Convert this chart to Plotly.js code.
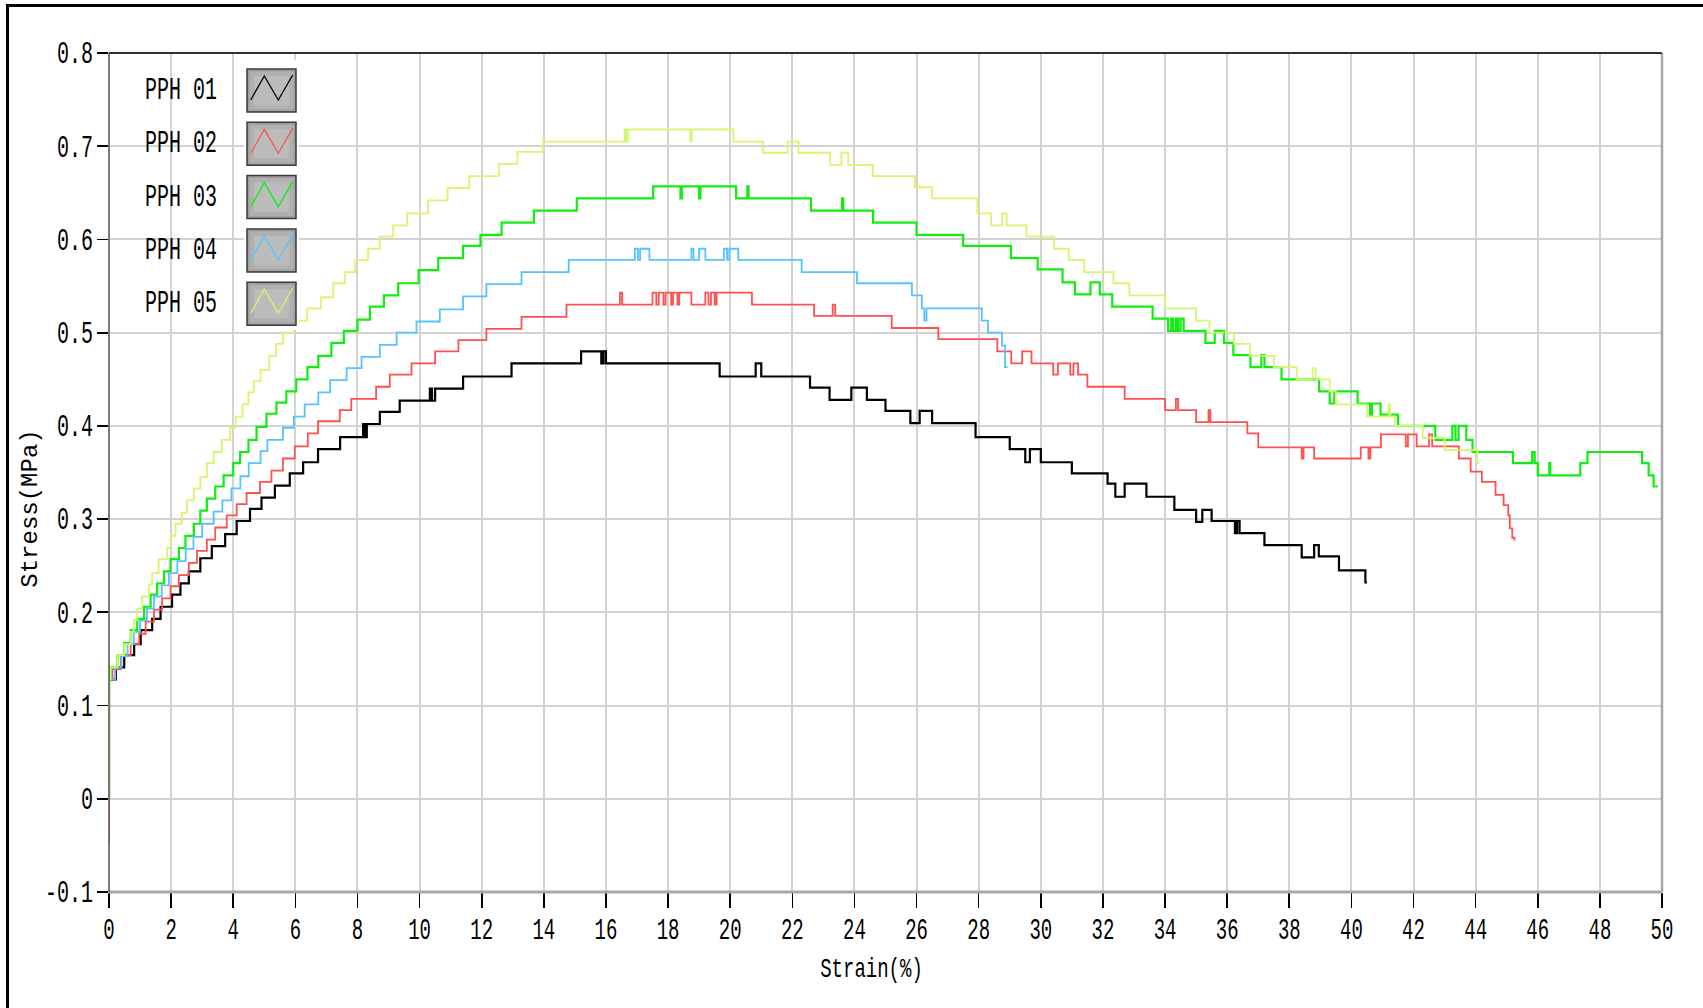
<!DOCTYPE html>
<html>
<head>
<meta charset="utf-8">
<script src="https://cdn.plot.ly/plotly-3.0.1.min.js"></script>
<style>
html,body{margin:0;padding:0;background:#fff;overflow:hidden}
#chart{width:1703px;height:1008px}
#frame{position:absolute;left:6px;top:4px;width:1720px;height:1030px;border-left:3px solid #000;border-top:3px solid #000;pointer-events:none}
</style>
</head>
<body>
<div id="chart"></div>
<div id="frame"></div>
<script>
// ---- data (strain %, stress MPa), step-wise ----
const seriesNames = ['PPH 01','PPH 02','PPH 03','PPH 04','PPH 05'];

const pph01 = [[0,0],[0,0.128],[0.22,0.141],[0.49,0.154],[0.81,0.166],[1.02,0.181],[1.39,0.193],[1.66,0.206],[2.03,0.219],[2.30,0.231],[2.57,0.244],[2.94,0.258],[3.31,0.271],[3.74,0.284],[4.11,0.298],[4.54,0.311],[4.91,0.323],[5.34,0.336],[5.82,0.349],[6.25,0.361],[6.73,0.375],[7.44,0.388],[8.18,0.402],[8.24,0.388],[8.30,0.402],[8.72,0.415],[9.36,0.427],[10.33,0.440],[10.40,0.427],[10.50,0.440],[11.40,0.453],[12.96,0.467],[15.20,0.480],[15.85,0.467],[15.92,0.480],[16.00,0.467],[19.66,0.453],[20.82,0.467],[21.00,0.453],[22.57,0.441],[23.20,0.428],[23.90,0.441],[24.40,0.428],[25.00,0.416],[25.80,0.403],[26.10,0.416],[26.50,0.403],[27.90,0.388],[29.00,0.375],[29.50,0.361],[29.65,0.375],[30.00,0.361],[31.00,0.349],[32.15,0.338],[32.40,0.324],[32.70,0.338],[33.40,0.324],[34.30,0.310],[35.00,0.297],[35.20,0.310],[35.50,0.298],[36.25,0.285],[36.32,0.298],[36.40,0.285],[37.20,0.272],[38.40,0.259],[38.80,0.272],[38.95,0.260],[39.60,0.245],[40.45,0.232],[40.50,0.232]];

const pph02 = [[0,-0.047],[0,0.127],[0.11,0.139],[0.38,0.154],[0.70,0.166],[0.97,0.177],[1.18,0.190],[1.45,0.203],[1.71,0.215],[1.98,0.228],[2.25,0.240],[2.57,0.253],[2.83,0.266],[3.15,0.278],[3.42,0.291],[3.79,0.304],[4.11,0.316],[4.43,0.328],[4.86,0.340],[5.23,0.352],[5.60,0.365],[5.98,0.378],[6.40,0.392],[6.73,0.405],[7.43,0.417],[7.80,0.429],[8.60,0.442],[9.04,0.455],[9.74,0.467],[10.50,0.480],[11.25,0.492],[12.15,0.504],[13.28,0.517],[14.73,0.530],[16.45,0.543],[16.52,0.530],[17.50,0.543],[17.62,0.530],[17.70,0.543],[17.85,0.530],[17.92,0.543],[18.10,0.530],[18.16,0.543],[18.30,0.530],[18.36,0.543],[18.75,0.530],[19.20,0.543],[19.30,0.530],[19.38,0.543],[19.50,0.530],[19.56,0.543],[20.70,0.530],[22.70,0.518],[23.30,0.530],[23.38,0.518],[25.20,0.505],[26.70,0.493],[28.60,0.480],[29.05,0.467],[29.40,0.480],[29.70,0.467],[30.40,0.455],[30.55,0.467],[30.95,0.455],[31.05,0.467],[31.20,0.455],[31.50,0.442],[32.70,0.429],[34.00,0.417],[34.35,0.429],[34.42,0.417],[35.00,0.404],[35.40,0.417],[35.46,0.404],[36.65,0.392],[37.00,0.377],[38.40,0.365],[38.46,0.377],[38.80,0.365],[40.30,0.377],[40.55,0.365],[40.61,0.377],[40.95,0.391],[41.75,0.378],[41.82,0.391],[42.10,0.378],[42.50,0.391],[42.60,0.378],[43.46,0.365],[43.84,0.351],[44.20,0.340],[44.64,0.326],[44.90,0.315],[45.05,0.304],[45.10,0.290],[45.18,0.280],[45.25,0.277]];

const pph03 = [[0,0],[0,0.128],[0.05,0.141],[0.27,0.154],[0.49,0.167],[0.70,0.181],[0.91,0.193],[1.13,0.206],[1.34,0.219],[1.55,0.231],[1.77,0.244],[1.98,0.257],[2.25,0.269],[2.46,0.282],[2.73,0.295],[2.94,0.309],[3.15,0.322],[3.42,0.335],[3.69,0.347],[4.00,0.360],[4.22,0.372],[4.49,0.385],[4.75,0.399],[5.07,0.413],[5.39,0.425],[5.71,0.437],[6.03,0.450],[6.39,0.463],[6.74,0.475],[7.16,0.489],[7.56,0.502],[8.00,0.514],[8.40,0.528],[8.85,0.540],[9.31,0.553],[9.97,0.567],[10.60,0.580],[11.40,0.593],[11.96,0.605],[12.64,0.618],[13.68,0.631],[15.06,0.644],[17.52,0.657],[18.40,0.644],[18.44,0.657],[19.00,0.644],[19.04,0.657],[20.19,0.644],[20.55,0.657],[20.59,0.644],[22.60,0.631],[23.60,0.644],[23.64,0.631],[24.60,0.618],[26.00,0.605],[27.50,0.593],[29.04,0.580],[29.90,0.568],[30.70,0.554],[31.10,0.541],[31.60,0.554],[31.90,0.541],[32.30,0.528],[33.60,0.515],[34.10,0.502],[34.20,0.515],[34.26,0.502],[34.35,0.515],[34.42,0.502],[34.50,0.515],[34.60,0.502],[35.30,0.489],[35.60,0.502],[35.90,0.489],[36.20,0.476],[36.75,0.463],[37.10,0.476],[37.20,0.463],[37.75,0.450],[38.96,0.437],[39.30,0.424],[39.45,0.437],[40.20,0.424],[40.60,0.412],[40.66,0.424],[40.94,0.412],[41.50,0.400],[42.70,0.385],[43.25,0.400],[43.35,0.385],[43.45,0.400],[43.70,0.385],[43.90,0.372],[45.20,0.360],[45.82,0.372],[45.90,0.360],[46.00,0.347],[46.37,0.360],[46.40,0.347],[47.37,0.360],[47.60,0.372],[49.36,0.360],[49.57,0.347],[49.73,0.335],[49.87,0.335]];

const pph04 = [[0,0],[0,0.128],[0.20,0.141],[0.40,0.153],[0.60,0.166],[0.80,0.179],[1.00,0.191],[1.22,0.204],[1.45,0.217],[1.70,0.229],[1.93,0.242],[2.20,0.255],[2.47,0.268],[2.72,0.281],[3.00,0.295],[3.37,0.308],[3.65,0.320],[3.94,0.333],[4.23,0.346],[4.50,0.360],[4.88,0.373],[5.10,0.385],[5.60,0.398],[5.95,0.410],[6.30,0.423],[6.74,0.436],[7.12,0.449],[7.65,0.462],[8.13,0.474],[8.72,0.487],[9.26,0.500],[9.90,0.512],[10.65,0.525],[11.40,0.539],[12.15,0.552],[13.28,0.565],[14.80,0.578],[16.93,0.590],[17.03,0.578],[17.10,0.590],[17.40,0.578],[18.75,0.590],[18.82,0.578],[19.00,0.590],[19.20,0.578],[19.80,0.590],[19.90,0.578],[19.97,0.590],[20.26,0.578],[22.30,0.565],[24.08,0.553],[25.85,0.540],[26.17,0.526],[26.25,0.513],[26.32,0.526],[28.10,0.513],[28.30,0.500],[28.75,0.486],[28.85,0.463],[28.93,0.463]];

const pph05 = [[0,0],[0,0.128],[0.05,0.141],[0.27,0.154],[0.49,0.166],[0.70,0.179],[0.80,0.192],[0.91,0.204],[1.07,0.217],[1.29,0.230],[1.39,0.242],[1.60,0.257],[1.87,0.269],[1.98,0.282],[2.14,0.295],[2.35,0.307],[2.51,0.320],[2.73,0.333],[2.94,0.345],[3.15,0.360],[3.37,0.372],[3.63,0.385],[3.90,0.398],[4.08,0.410],[4.30,0.423],[4.49,0.436],[4.66,0.448],[4.88,0.460],[5.16,0.475],[5.38,0.488],[5.60,0.500],[5.95,0.513],[6.38,0.526],[6.82,0.538],[7.22,0.553],[7.60,0.565],[7.93,0.578],[8.34,0.590],[8.72,0.603],[9.15,0.615],[9.60,0.628],[10.27,0.642],[10.90,0.655],[11.60,0.668],[12.55,0.681],[13.15,0.694],[13.98,0.705],[16.60,0.718],[16.65,0.705],[16.72,0.718],[18.72,0.705],[18.76,0.718],[20.10,0.705],[21.05,0.693],[21.85,0.705],[22.20,0.693],[23.22,0.680],[23.58,0.693],[23.80,0.680],[24.59,0.668],[25.95,0.656],[26.50,0.644],[27.96,0.628],[28.40,0.615],[28.75,0.628],[28.90,0.615],[29.54,0.603],[30.43,0.590],[30.90,0.578],[31.40,0.565],[32.34,0.553],[32.85,0.540],[34.00,0.526],[35.00,0.513],[35.43,0.500],[36.22,0.488],[36.73,0.475],[37.50,0.463],[38.24,0.450],[38.75,0.462],[38.85,0.450],[39.30,0.437],[39.50,0.423],[40.50,0.410],[41.20,0.423],[41.25,0.410],[41.40,0.400],[42.30,0.387],[43.00,0.374],[44.05,0.360],[44.12,0.360]];

const xTickVals = [0,2,4,6,8,10,12,14,16,18,20,22,24,26,28,30,32,34,36,38,40,42,44,46,48,50];
const xTickText = ['0','2','4','6','8','10','12','14','16','18','20','22','24','26','28','30','32','34','36','38','40','42','44','46','48','50'];
const yTickVals = [-0.1,0,0.1,0.2,0.3,0.4,0.5,0.6,0.7,0.8];
const yTickText = ['-0.1','0','0.1','0.2','0.3','0.4','0.5','0.6','0.7','0.8'];

// ---- styling ----
const seriesData = [pph01, pph02, pph03, pph04, pph05];
const colors = ['#000000','#ff5050','#10ee10','#55c3ff','#d4f76e'];
const widths = [2.2, 1.8, 2.2, 1.8, 1.8];
const MONO = 'Liberation Mono, DejaVu Sans Mono, monospace';

const traces = seriesData.map((d, i) => ({
  type: 'scatter', mode: 'lines', name: seriesNames[i],
  x: d.map(p => p[0]), y: d.map(p => p[1]),
  line: {color: colors[i], width: widths[i], shape: 'hv', simplify: false},
  hoverinfo: 'skip'
}));

// pixel -> paper helpers for the plot box (left 109, top 53, w 1553, h 839)
const PL = 109, PT = 53, PW = 1553, PH = 839;
const px = X => (X - PL) / PW;
const py = Y => (PT + PH - Y) / PH;

const shapes = [];
const annotations = [];

// legend column background
shapes.push({type:'rect', xref:'paper', yref:'paper', x0:px(244), x1:px(299), y0:py(330), y1:py(60),
  fillcolor:'#ffffff', line:{width:0}, layer:'above'});

seriesNames.forEach((nm, i) => {
  const top = 69 + i * 53.3, bot = top + 43, L = 247, R = 296;
  shapes.push({type:'rect', xref:'paper', yref:'paper', x0:px(L), x1:px(R), y0:py(bot), y1:py(top),
    fillcolor:'#9e9e9e', line:{color:'#3a3a3a', width:1.5}, layer:'above'});
  shapes.push({type:'rect', xref:'paper', yref:'paper', x0:px(L+2.5), x1:px(R-2.5), y0:py(bot-2.5), y1:py(top+2.5),
    fillcolor:'#b0b0b0', line:{width:0}, layer:'above'});
  shapes.push({type:'rect', xref:'paper', yref:'paper', x0:px(L+7), x1:px(R-7), y0:py(bot-7), y1:py(top+7),
    fillcolor:'#bcbcbc', line:{width:0}, layer:'above'});
  const pts = [[L+3.7, top+31],[L+17.3, top+7],[L+31.3, top+31],[L+45.7, top+6]];
  const path = 'M ' + pts.map(p => px(p[0]) + ',' + py(p[1])).join(' L ');
  shapes.push({type:'path', xref:'paper', yref:'paper', path: path,
    line:{color: colors[i], width: 1.3}, layer:'above'});
  annotations.push({xref:'paper', yref:'paper', x:px(143), y:py(top + 21.5), xanchor:'left', yanchor:'middle',
    text: nm, showarrow:false, font:{family: MONO, size: 20, color:'#000'}});
});

// plot box borders
shapes.push({type:'line', xref:'paper', yref:'paper', x0:0, x1:1, y0:0, y1:0, line:{color:'#a8a8a8', width:3}, layer:'above'});
shapes.push({type:'line', xref:'paper', yref:'paper', x0:1, x1:1, y0:0, y1:1, line:{color:'#a8a8a8', width:2.5}, layer:'above'});
shapes.push({type:'line', xref:'paper', yref:'paper', x0:0, x1:1, y0:1, y1:1, line:{color:'#303030', width:2}, layer:'above'});
shapes.push({type:'line', xref:'paper', yref:'paper', x0:0, x1:0, y0:0, y1:1, line:{color:'#505050', width:1.5}, layer:'above'});

const layout = {
  width: 1703, height: 1008,
  margin: {l: PL, r: 1703 - PL - PW, t: PT, b: 1008 - PT - PH, autoexpand: false},
  paper_bgcolor: '#ffffff', plot_bgcolor: '#ffffff',
  showlegend: false,
  font: {family: MONO, color: '#000'},
  xaxis: {
    range: [0, 50], tickvals: xTickVals, ticktext: xTickText,
    ticks: 'outside', ticklen: 15, tickwidth: 1.6, tickcolor: '#000',
    ticklabelstandoff: 5,
    showgrid: true, gridcolor: '#d3d3d3', gridwidth: 2, zeroline: false, showline: false,
    tickfont: {family: MONO, size: 19, color: '#000'},
    title: {text: 'Strain(%)', font: {family: MONO, size: 19, color: '#000'}, standoff: 20},
    fixedrange: true
  },
  yaxis: {
    range: [-0.1, 0.8], tickvals: yTickVals, ticktext: yTickText,
    ticks: 'outside', ticklen: 11, tickwidth: 1.8, tickcolor: '#000',
    showgrid: true, gridcolor: '#d3d3d3', gridwidth: 2, zeroline: false, showline: false,
    tickfont: {family: MONO, size: 20, color: '#000'},
    title: {text: 'Stress(MPa)', font: {family: MONO, size: 24, color: '#000'}, standoff: 8},
    fixedrange: true
  },
  shapes: shapes,
  annotations: annotations
};

function stretch(sel, sy) {
  document.querySelectorAll(sel).forEach(el => {
    try {
      const b = el.getBBox();
      const cx = b.x + b.width / 2, cy = b.y + b.height / 2;
      const t = el.getAttribute('transform') || '';
      el.setAttribute('transform', t + ' translate(' + cx + ',' + cy + ') scale(1,' + sy + ') translate(' + (-cx) + ',' + (-cy) + ')');
    } catch (e) {}
  });
}
function shift(sel, dx, dy) {
  document.querySelectorAll(sel).forEach(el => {
    const t = el.getAttribute('transform') || '';
    el.setAttribute('transform', 'translate(' + dx + ',' + dy + ') ' + t);
  });
}

Plotly.newPlot('chart', traces, layout, {displayModeBar: false, staticPlot: true}).then(() => {
  stretch('.xtick text', 1.6);
  stretch('.ytick text', 1.6);
  stretch('.annotation-text', 1.6);
  stretch('.g-xtitle text', 1.45);
  shift('.g-ytitle text', 8, 36);
  shift('.g-xtitle text', -14, 0);
});
</script>
</body>
</html>
